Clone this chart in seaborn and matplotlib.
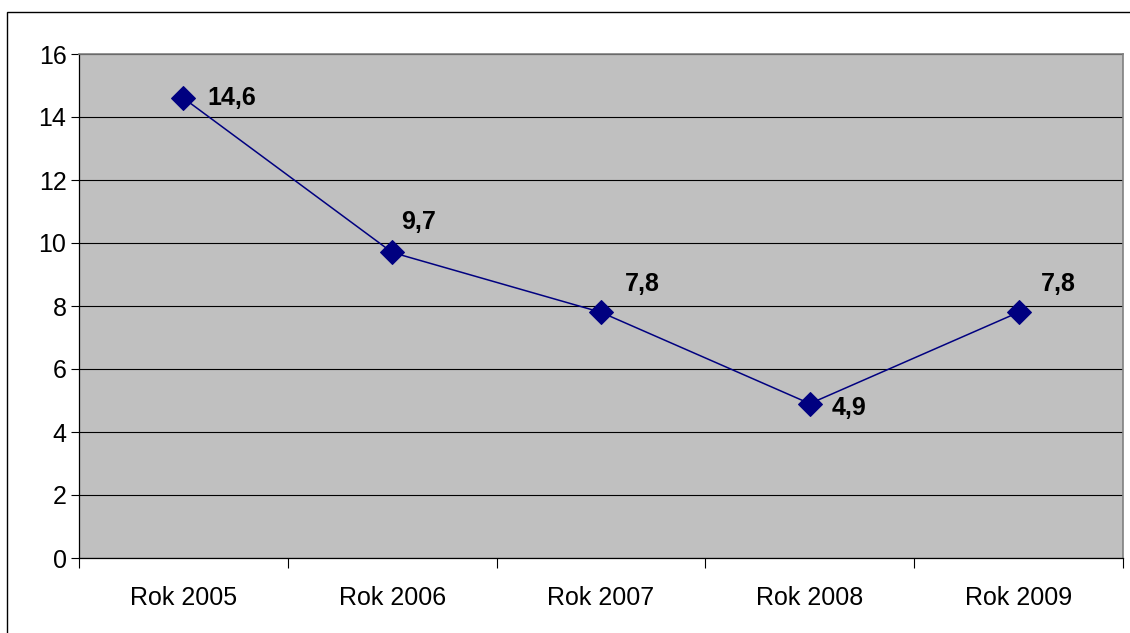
import matplotlib
matplotlib.use("Agg")
import matplotlib.pyplot as plt
import seaborn as sns
import pandas as pd
from matplotlib.patches import Rectangle

# dane
years = ["Rok 2005", "Rok 2006", "Rok 2007", "Rok 2008", "Rok 2009"]
values = [14.6, 9.7, 7.8, 4.9, 7.8]
value_labels = ["14,6", "9,7", "7,8", "4,9", "7,8"]
y_ticks = [0, 2, 4, 6, 8, 10, 12, 14, 16]

df = pd.DataFrame({"rok": years, "wartosc": values})

sns.set_style("white")
plt.rcParams["font.family"] = ["Liberation Sans", "DejaVu Sans"]

fig = plt.figure(figsize=(11.3, 6.33), dpi=100)
ax = fig.add_axes([79 / 1130, 1 - 558 / 633, (1123 - 79) / 1130, (558 - 54) / 633])
ax.set_facecolor("#C0C0C0")

sns.lineplot(data=df, x="rok", y="wartosc", ax=ax, color="#000080", linewidth=1.1,
             marker="D", markersize=12.5, markeredgecolor="#000080",
             markerfacecolor="#000080", zorder=3)

# etykiety wartosci (przesuniecia w pikselach)
offsets = [(24, 0), (9, 30), (24, 28), (22, -4), (22, 28)]
for i, (v, lab) in enumerate(zip(values, value_labels)):
    ax.annotate(lab, (i, v), xytext=offsets[i], textcoords="offset pixels",
                ha="left", va="center", fontsize=18, fontweight="bold", color="black")

ax.set_xlim(-0.5, len(years) - 0.5)
ax.set_ylim(0, 16)
ax.set_yticks(y_ticks)
ax.set_yticklabels([str(t) for t in y_ticks], fontsize=18, color="black")
ax.yaxis.grid(True, color="black", linewidth=0.8)
ax.set_axisbelow(True)

# podzialki osi x na granicach kategorii
ax.set_xticks(range(len(years)))
ax.set_xticklabels(years, fontsize=18, color="black")
ax.tick_params(axis="x", which="major", length=0, pad=20, bottom=True)
ax.set_xticks([i - 0.5 for i in range(len(years) + 1)], minor=True)
ax.tick_params(axis="x", which="minor", length=7, width=0.8, color="black", bottom=True)
ax.tick_params(axis="y", length=6, width=0.8, color="black", pad=3, left=True)

ax.set_xlabel("")
ax.set_ylabel("")
for s in ["left", "bottom"]:
    ax.spines[s].set_color("black")
    ax.spines[s].set_linewidth(0.9)
for s in ["top", "right"]:
    ax.spines[s].set_color("#808080")
    ax.spines[s].set_linewidth(1.2)

# ramka wykresu
fig.patches.append(Rectangle((7 / 1130, -0.1), 1.2, 1.1 - 12 / 633,
                             transform=fig.transFigure, fill=False,
                             edgecolor="black", linewidth=1.0))

fig.savefig("out.png", dpi=100)
